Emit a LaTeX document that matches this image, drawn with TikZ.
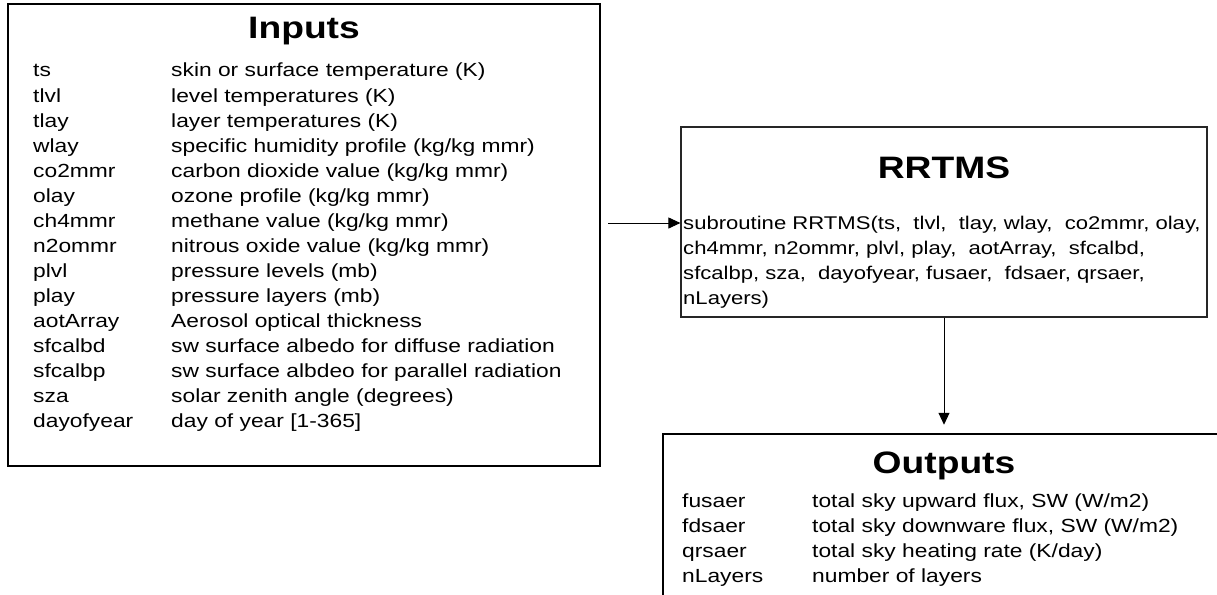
\documentclass[tikz,border=0pt]{standalone}
\usepackage{fontspec}
\setmainfont[FakeStretch=1.2]{Liberation Sans}
\usetikzlibrary{arrows.meta}
\tikzset{
  frame/.style={draw=black, line width=2.5pt},
  thinframe/.style={draw=black!85, line width=1.2pt},
  heading/.style={font=\bfseries\fontsize{31}{31}\selectfont, inner sep=0pt},
  item/.style={font=\fontsize{19}{19}\selectfont, anchor=base west, inner sep=0pt},
  callitem/.style={item, font=\fontsize{18.4}{18.4}\selectfont},
  link/.style={draw=black, line width=1pt, -{Triangle[length=12pt,width=11pt]}}
}
\begin{document}
\begin{tikzpicture}[x=1pt,y=-1pt]
\useasboundingbox (0,0) rectangle (1217,594);
% Inputs panel
\node[frame, minimum width=592pt, minimum height=462pt, inner sep=0pt] (inputs) at (304,235) {};
\node[heading] (inputstitle) at (304,31) {Inputs};
\foreach \n/\d [count=\i from 0] in {
  ts/{skin or surface temperature (K)},
  tlvl/{level temperatures (K)},
  tlay/{layer temperatures (K)},
  wlay/{specific humidity profile (kg/kg mmr)},
  co2mmr/{carbon dioxide value (kg/kg mmr)},
  olay/{ozone profile (kg/kg mmr)},
  ch4mmr/{methane value (kg/kg mmr)},
  n2ommr/{nitrous oxide value (kg/kg mmr)},
  plvl/{pressure levels (mb)},
  play/{pressure layers (mb)},
  aotArray/{Aerosol optical thickness},
  sfcalbd/{sw surface albedo for diffuse radiation},
  sfcalbp/{sw surface albdeo for parallel radiation},
  sza/{solar zenith angle (degrees)},
  dayofyear/{day of year [1-365]}} {
  \node[item] (in\i) at (33,{77+\i*25}) {\n};
  \node[item] (ind\i) at (171,{77+\i*25}) {\d};
}
% RRTMS panel
\node[thinframe, minimum width=526pt, minimum height=190pt, inner sep=0pt] (rrtms) at (944,222) {};
\node[heading] (rrtmstitle) at (944,168) {RRTMS};
\node[callitem] (call1) at (683,229) {subroutine RRTMS(ts,\ \ tlvl,\ \ tlay, wlay,\ \ co2mmr, olay,};
\node[callitem] (call2) at (683,254) {ch4mmr, n2ommr, plvl, play,\ \ aotArray,\ \ sfcalbd,};
\node[callitem] (call3) at (683,279) {sfcalbp, sza,\ \ dayofyear, fusaer,\ \ fdsaer, qrsaer,};
\node[callitem] (call4) at (683,304) {nLayers)};
% Outputs panel, running past the page edge
\node[frame, minimum width=562pt, minimum height=200pt, inner sep=0pt] (outputs) at (944,534) {};
\node[heading] (outputstitle) at (944,466) {Outputs};
\foreach \n/\d [count=\i from 0] in {
  fusaer/{total sky upward flux, SW (W/m2)},
  fdsaer/{total sky downware flux, SW (W/m2)},
  qrsaer/{total sky heating rate (K/day)},
  nLayers/{number of layers}} {
  \node[item] (out\i) at (682,{507+\i*25}) {\n};
  \node[item] (outd\i) at (812,{507+\i*25}) {\d};
}
% Connectors
\coordinate (feed) at (608,223);
\draw[link] (feed) -- (rrtms.west |- feed);
\draw[link] (rrtms.south) -- ([yshift=8pt]outputs.north);
\end{tikzpicture}
\end{document}
